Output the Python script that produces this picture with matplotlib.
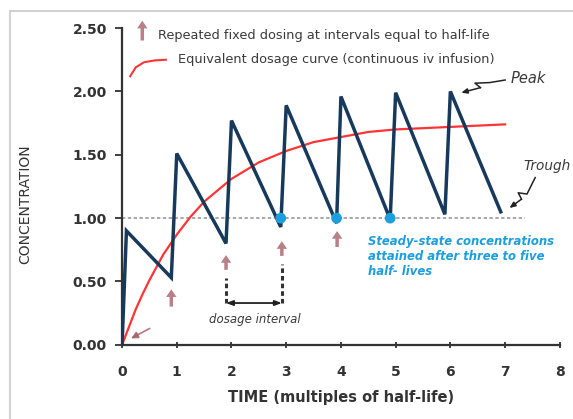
import matplotlib
matplotlib.use('Agg')
import matplotlib.pyplot as plt
from matplotlib.lines import Line2D

# sawtooth: repeated fixed dosing every half-life
dose_t = [0, 0.08, 0.9, 1.0, 1.9, 2.0, 2.9, 3.0, 3.92, 4.0, 4.9, 5.0, 5.9, 6.0, 6.92]
dose_c = [0, 0.90, 0.53, 1.51, 0.80, 1.77, 0.93, 1.89, 0.96, 1.96, 0.99, 1.99, 1.03, 2.00, 1.05]

# continuous infusion curve
inf_t = [0, 0.125, 0.25, 0.375, 0.5, 0.75, 1.0, 1.25, 1.5, 2.0, 2.5, 3.0, 3.5, 4.0, 4.5, 5.0, 5.5, 6.0, 6.5, 7.0]
inf_c = [0, 0.14, 0.28, 0.40, 0.51, 0.71, 0.87, 1.01, 1.13, 1.31, 1.44, 1.53, 1.60, 1.64, 1.68, 1.70, 1.71, 1.72, 1.73, 1.74]

# steady-state markers
ss_t = [2.9, 3.92, 4.9]
ss_c = [1.0, 1.0, 1.0]

# dose arrows (time, tip, base)
arrow_t = [0.9, 1.9, 2.92, 3.93]
arrow_tip = [0.46, 0.73, 0.84, 0.92]
arrow_base = [0.28, 0.57, 0.68, 0.75]

xticks = list(range(0, 9))
yticks = [0.0, 0.5, 1.0, 1.5, 2.0, 2.5]

navy = '#173a5c'
red = '#ff3535'
mauve = '#a8606a'
blue = '#1c9fdc'
txt = '#3a3a3a'

fig = plt.figure(figsize=(5.73, 4.19), dpi=100)
ax = fig.add_axes([0.213, 0.177, 0.764, 0.756])

# light frame (top and left edges only)
fx, fy = 10 / 573, 1 - 11 / 419
fig.add_artist(Line2D([fx, 1], [fy, fy], transform=fig.transFigure, color='#d2d2d2', linewidth=1.5))
fig.add_artist(Line2D([fx, fx], [0, fy], transform=fig.transFigure, color='#d2d2d2', linewidth=1.5))

ax.axhline(1.0, xmin=0, xmax=7.36 / 8, color='#9a9a9a', linestyle=(0, (2, 1.5)), linewidth=1.2, zorder=1)
ax.plot(inf_t, inf_c, color=red, linewidth=1.6, zorder=2)
ax.plot(dose_t, dose_c, color=navy, linewidth=2.5, solid_joinstyle='miter', zorder=3)
ax.scatter(ss_t, ss_c, s=60, color=blue, zorder=4, edgecolors='none')

arrow_style = 'simple,head_width=0.75,head_length=0.55,tail_width=0.25'
for t, tip, base in zip(arrow_t, arrow_tip, arrow_base):
    ax.annotate('', xy=(t, tip), xytext=(t, base),
                arrowprops=dict(arrowstyle=arrow_style, color=mauve, alpha=0.8, lw=0))
# arrow at time zero
ax.annotate('', xy=(0.12, 0.04), xytext=(0.55, 0.14),
            arrowprops=dict(arrowstyle='-|>,head_width=0.2,head_length=0.4', color=mauve, lw=1.2, alpha=0.85))

# dosage interval bracket
for t, base in zip(arrow_t[1:3], arrow_base[1:3]):
    ax.plot([t, t], [0.33, base - 0.04], color='#333333', linestyle=(0, (1.5, 1)), linewidth=2.2)
ax.annotate('', xy=(1.9, 0.33), xytext=(2.92, 0.33),
            arrowprops=dict(arrowstyle='<|-|>,head_width=0.15,head_length=0.4', color='#222222', lw=1.3,
                            shrinkA=0, shrinkB=0))
ax.text(2.43, 0.20, 'dosage interval', fontsize=8.5, style='italic', color=txt, ha='center', va='center')

# legend at top
ax.annotate('', xy=(0.37, 2.58), xytext=(0.37, 2.38), annotation_clip=False,
            arrowprops=dict(arrowstyle=arrow_style, color=mauve, alpha=0.8, lw=0))
ax.text(0.66, 2.445, 'Repeated fixed dosing at intervals equal to half-life', fontsize=9.3,
        color=txt, va='center', clip_on=False)
ax.plot([0.15, 0.25, 0.40, 0.60, 0.80], [2.12, 2.19, 2.23, 2.245, 2.25], color=red, linewidth=1.5, clip_on=False)
ax.text(1.02, 2.25, 'Equivalent dosage curve (continuous iv infusion)', fontsize=9.3,
        color=txt, va='center', clip_on=False)

# peak / trough callouts
ax.annotate('', xy=(6.2, 1.99), xytext=(6.55, 2.03),
            arrowprops=dict(arrowstyle='-|>,head_width=0.15,head_length=0.35', color='#222222', lw=1.1,
                            shrinkA=0, shrinkB=0))
ax.plot([6.55, 6.45, 6.72, 7.0], [2.03, 2.065, 2.07, 2.09], color='#222222', linewidth=1.1)
ax.text(7.1, 2.10, 'Peak', fontsize=10.5, style='italic', color=txt, va='center')

ax.annotate('', xy=(7.08, 1.08), xytext=(7.3, 1.15),
            arrowprops=dict(arrowstyle='-|>,head_width=0.15,head_length=0.35', color='#222222', lw=1.1,
                            shrinkA=0, shrinkB=0))
ax.plot([7.3, 7.24, 7.4, 7.55], [1.15, 1.2, 1.19, 1.32], color='#222222', linewidth=1.1, clip_on=False)
ax.text(7.33, 1.41, 'Trough', fontsize=9.8, style='italic', color=txt, va='center', clip_on=False)

ax.text(4.5, 0.87, 'Steady-state concentrations\nattained after three to five\nhalf- lives',
        fontsize=8.4, style='italic', weight='semibold', color=blue, va='top', ha='left', linespacing=1.2)

ax.set_xlim(0, 8)
ax.set_ylim(0, 2.5)
ax.set_xticks(xticks)
ax.set_yticks(yticks)
ax.set_yticklabels(['%.2f' % v for v in yticks])
ax.tick_params(axis='both', labelsize=10, colors='#333333', width=1.3, length=4)
ax.tick_params(axis='x', direction='inout', length=5, pad=12)
ax.tick_params(axis='y', direction='out', length=5, pad=6)
for lab in ax.get_xticklabels() + ax.get_yticklabels():
    lab.set_fontweight('bold')

for side in ['top', 'right']:
    ax.spines[side].set_visible(False)
for side in ['left', 'bottom']:
    ax.spines[side].set_linewidth(1.6)
    ax.spines[side].set_color('#333333')

ax.set_xlabel('TIME (multiples of half-life)', fontsize=10.5, weight='bold', color='#333333', labelpad=8)
ax.set_ylabel('CONCENTRATION', fontsize=10, color='#333333')
ax.yaxis.set_label_coords(-0.205, 0.445)

fig.savefig('out.png', dpi=100)
